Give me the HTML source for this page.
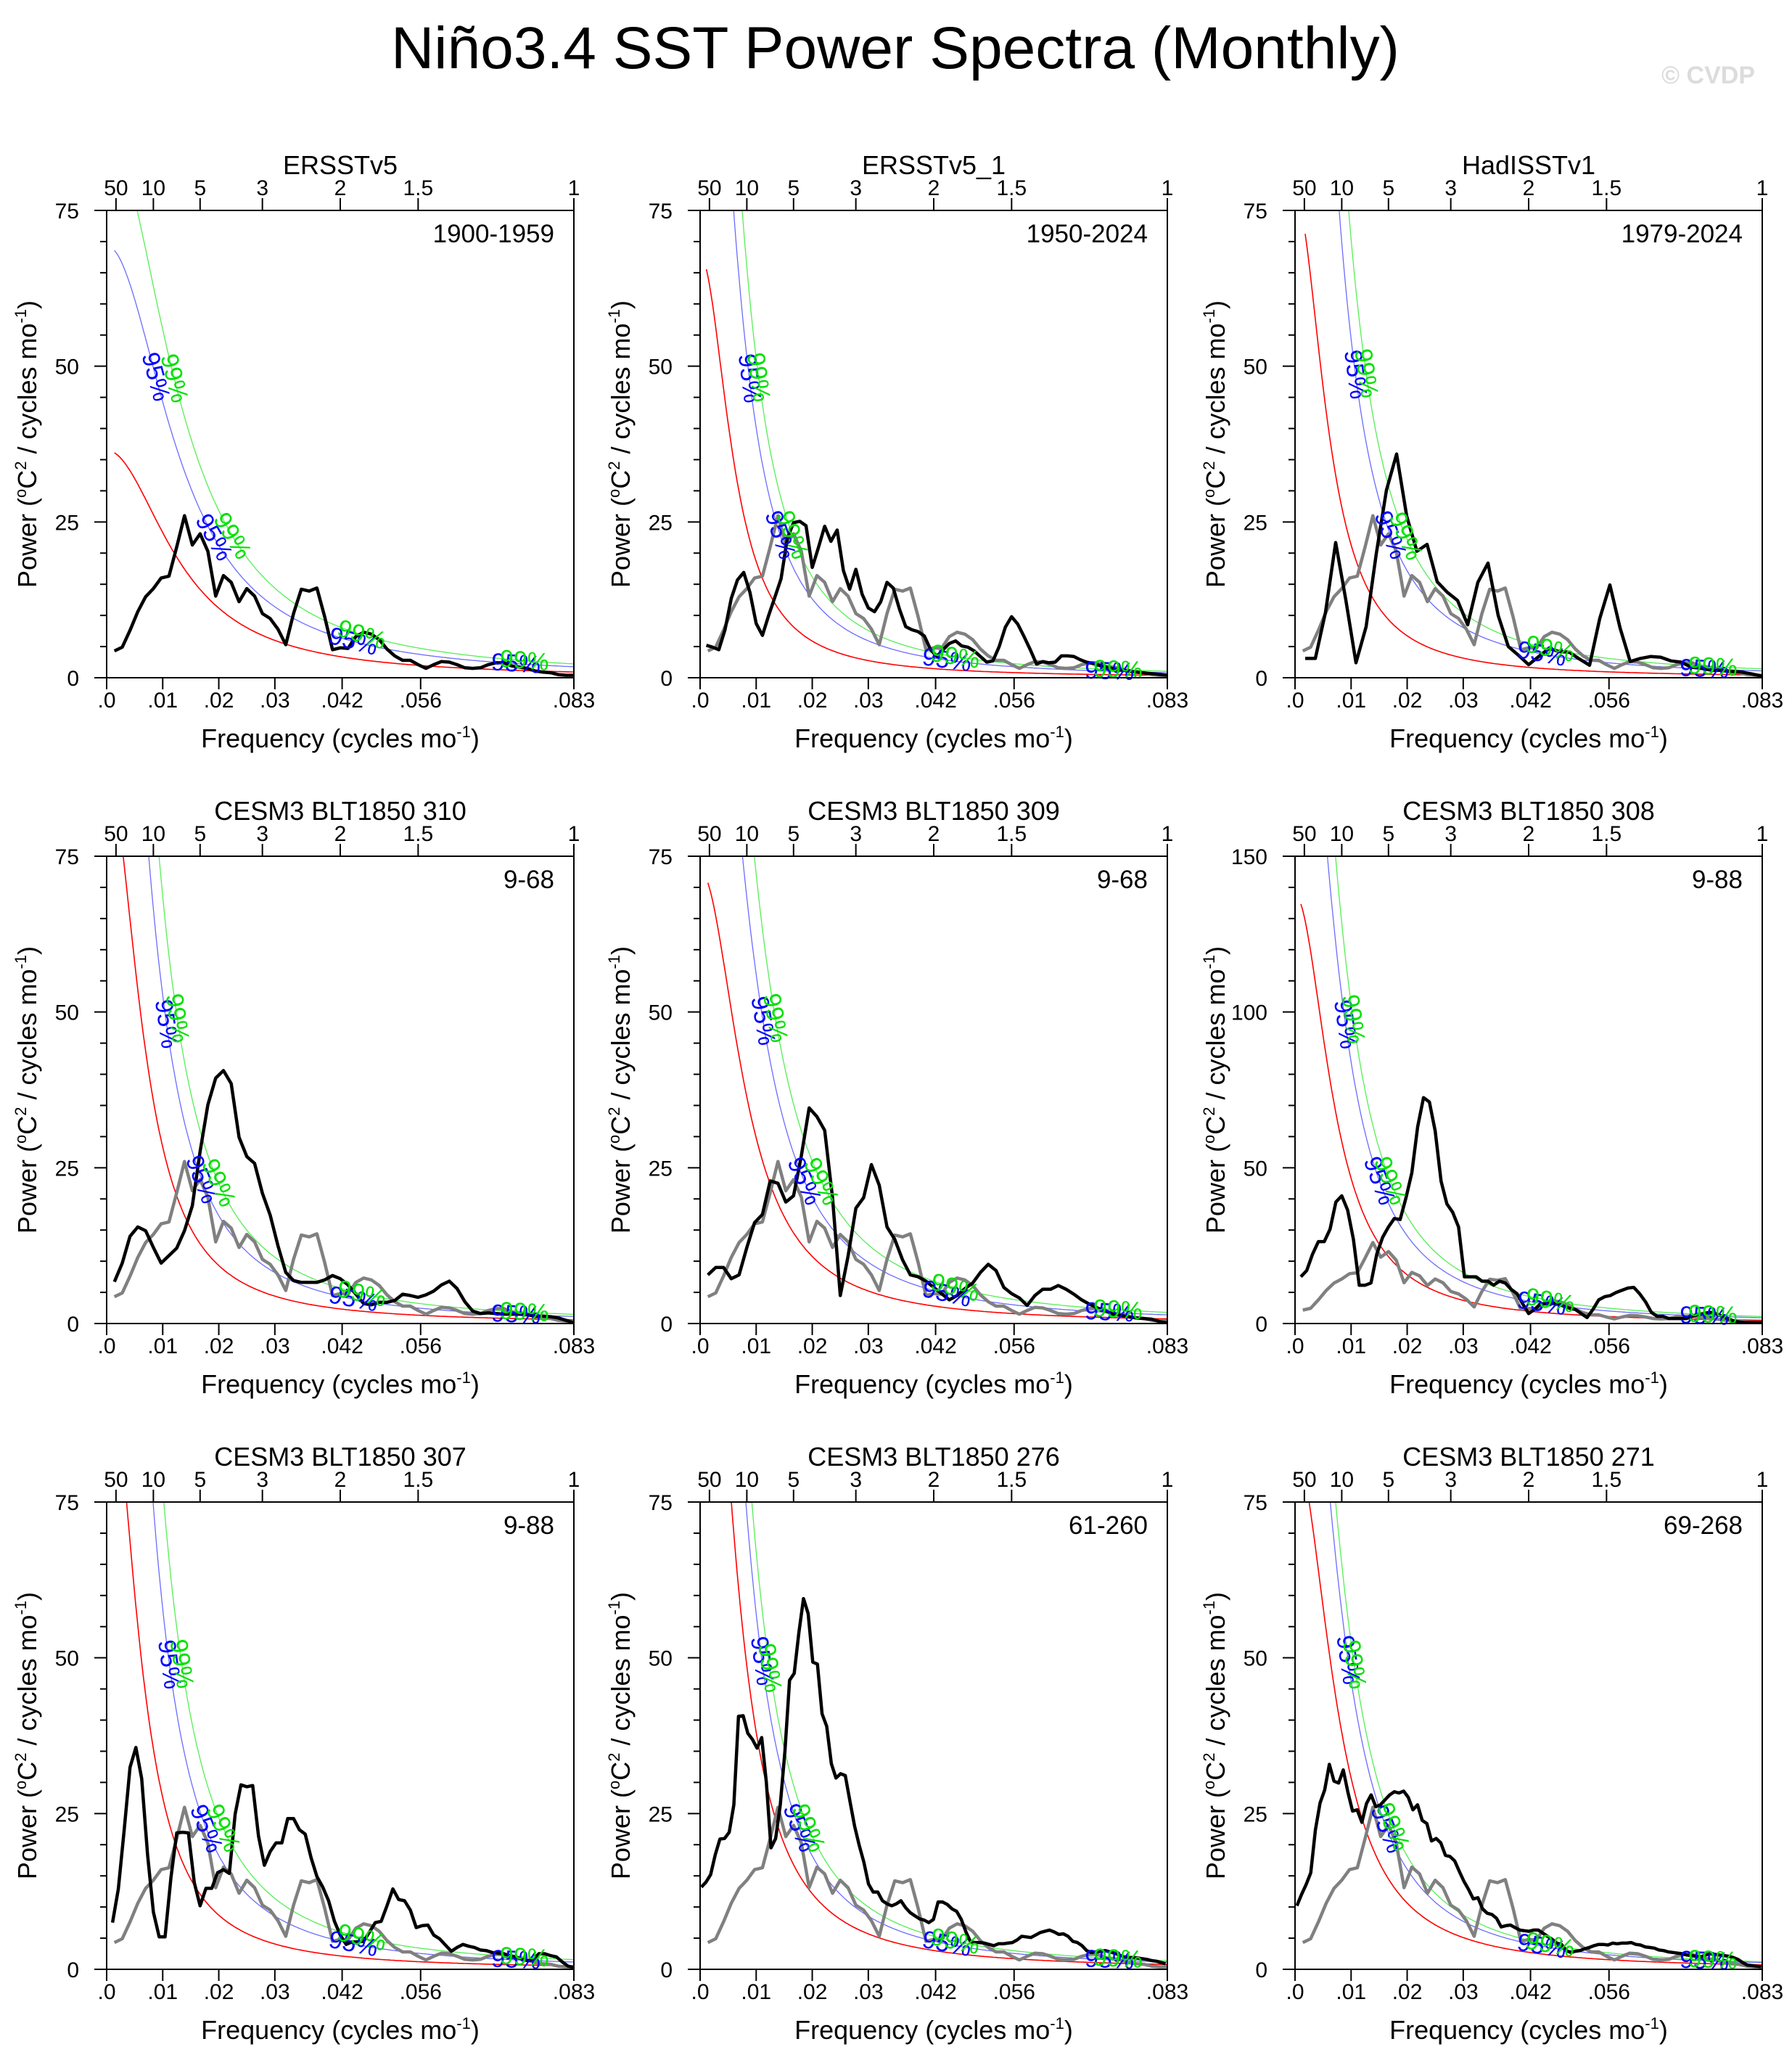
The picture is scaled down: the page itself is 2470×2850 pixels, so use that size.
<!DOCTYPE html>
<html><head><meta charset="utf-8"><title>Niño3.4 SST Power Spectra</title>
<style>html,body{margin:0;padding:0;background:#fff}svg{display:block}text{font-family:"Liberation Sans",Arial,sans-serif}</style>
</head><body>
<svg id="chart" xmlns="http://www.w3.org/2000/svg" width="2470" height="2850" viewBox="0 0 2470 2850">
<rect x="0" y="0" width="2470" height="2850" fill="#fff"/>
<text x="1234" y="94" font-size="82" text-anchor="middle" textLength="1390" lengthAdjust="spacingAndGlyphs">Niño3.4 SST Power Spectra (Monthly)</text>
<text x="2419" y="115" font-size="34" font-weight="bold" text-anchor="end" fill="#dcdcdc">© CVDP</text>
</svg>
<script>
const titles=["ERSSTv5","ERSSTv5_1","HadISSTv1","CESM3 BLT1850 310","CESM3 BLT1850 309","CESM3 BLT1850 308","CESM3 BLT1850 307","CESM3 BLT1850 276","CESM3 BLT1850 271"];
const ranges=["1900-1959","1950-2024","1979-2024","9-68","9-68","9-88","9-88","61-260","69-268"];
const yMaxes=[75,75,75,75,75,150,75,75,75];
const p1=[4.3,4.9,7.6,10.6,13,14.3,16,16.3,21,26,21.3,23.1,20.3,13.1,16.4,15.3,12.2,14.3,13.1,10.3,9.5,7.8,5.3,10.3,14.2,13.9,14.4,9.8,4.5,4.8,4.7,6.6,7.3,7.0,6.1,4.6,3.5,2.8,2.8,2.1,1.5,2.1,2.6,2.5,2.1,1.6,1.5,1.6,2.1,2.4,2.4,1.9,1.7,1.5,1.1,0.9,0.8,0.5,0.4,0.4];
const p2=[5.2,4.9,4.5,7.7,12.7,15.7,16.9,13.7,8.7,6.8,10,12.9,15.9,22.4,24.9,25.1,24.4,17.7,20.9,24.3,21.9,23.7,17.2,14.2,17.4,13.4,11.2,10.6,12.2,15.3,14.4,11,8.2,7.7,7.4,6.7,4.5,3.4,4.5,5.5,5.9,5.1,4.9,4.3,3.4,2.5,2.7,5,8.1,9.8,8.6,6.6,4.5,2.2,2.6,2.4,2.5,3.5,3.5,3.4,2.9,2.5,2.3,2.0,1.7,1.5,1.3,1.2,1.0,0.9,0.8,0.7,0.6,0.5,0.4];
const p3=[3.1,3.1,10.5,21.7,12.5,2.4,8.2,19.9,30.1,35.9,25.9,20.3,21.4,15.4,13.7,12.4,8.5,15.3,18.4,10,5,3.6,2.1,3.4,4.7,4.2,4.1,3,2,9.5,14.9,8,2.6,3.1,3.4,3.3,2.7,2.5,1.7,1.5,1.2,1.2,1.0,0.9,0.6,0.25];
const p4=[6.7,9.7,14,15.5,14.9,12.2,9.7,10.9,12.1,14.9,18.9,27.6,35.1,39.4,40.6,38.5,29.9,26.8,25.7,20.9,17.4,12.5,8.2,6.9,6.6,6.6,6.6,7,7.7,7.2,6.2,4.7,3.2,3,3.4,3.4,3.7,4.7,4.5,4.2,4.6,5.2,6.2,6.8,5.6,3.5,2,1.6,1.7,1.6,1.5,1.5,1.5,1.4,1.2,1.2,1.1,0.9,0.5,0.1];
const p5=[7.8,9,9,7.2,7.8,12.2,16.2,17.5,22.9,22.5,19.5,20.5,26.9,34.6,33.2,31,20.2,4.5,10.8,18.5,20.2,25.5,22.2,15.5,13.5,10.2,7.8,7.5,6.8,5.8,4.8,3.8,4.5,5.6,6.5,8.2,9.5,8.5,5.8,4.8,4.1,2.9,4.5,5.5,5.5,6.1,5.5,4.7,3.8,3.1,2.5,2.1,1.5,1.3,1.1,0.9,0.8,0.7,0.3,0.1];
const p6=[15,17,22.3,26.3,26.3,30.3,39,41,36.4,27,12.3,12.3,13,22.3,27.7,31,33.7,33.4,40.4,48.4,63.1,72.5,71.1,61.8,45.7,38.4,35.7,31,15,15,15,13.6,13.6,12.3,13.6,13,11,9.6,6.3,3.2,4.5,6.3,6.3,6.6,6.3,5.6,4.9,4.5,3.2,1.9,4.5,7.6,8.6,9,10,10.7,11.4,11.6,9.6,7,3.6,2.3,2.3,1.6,1.6,1.6,1.6,2.3,2.9,3.2,3.6,3.2,2.4,1.6,0.9,0.5,0.3,0.3,0.3,0.3];
const p7=[7.5,12.9,22.4,32.4,35.6,30.6,18.4,9.2,5.2,5.2,14.7,21.9,22,21.9,13.9,10.2,13,13,15.5,16,15.4,24.9,29.6,29.3,29.5,21.4,16.7,18.9,20.3,20.3,24.2,24.2,22.4,21.7,17.9,14.9,13.2,11,7.7,5.5,4,4.4,4.4,4.5,6,7.5,7.7,10.2,12.9,11.2,11,9.5,6.7,7,7.1,5.5,4.9,3.9,2.9,3.5,4,3.7,3.5,3.1,3,2.7,2.6,2.5,2.2,2,1.7,1.4,1.5,2.5,2.5,2.2,2,1.2,0.5,0.3];
const p8=[13.2,14,15.2,18.4,20.9,21,22,26.4,40.6,40.7,37.9,36.9,35.5,37.2,30,19.5,21,26.4,35,46.4,47.5,54,59.5,57.1,49.3,49,41,39,33,30.7,31.4,31.1,27,23,19.9,17.2,13.7,12.4,12.4,11,10.5,10.2,10.5,11,9.9,9.1,8.6,8.1,7.9,7.5,8,10.8,10.8,10.4,9.7,9.3,8,6,4.4,4.3,4.3,4.2,4,3.8,4.1,4.1,4.2,4.3,4.7,5.3,5.2,5.1,5.5,5.9,6.1,6.3,6,5.6,5.7,5.3,4.5,4.3,3.8,3,2.7,2.8,2.9,3,2.8,2.6,2.3,2,1.9,1.9,1.8,1.7,1.6,1.4,1.3,1.1,0.9];
const p9=[10.2,12,13.6,15.5,22.4,26.7,28.8,32.9,30.2,29.9,32,28.4,25.4,25.6,23.6,26.6,28,26.1,26.4,27.2,28,28.5,28.3,28.6,27.6,25.6,26.4,23.9,23.4,20.6,21,20.3,18.3,18.1,17.4,15.7,14.1,12.8,11.3,11.5,9.7,9,8.8,8.2,6.8,7,7.1,6.7,6.3,6.2,6.1,6.3,6.3,5.8,5.3,4.8,4.2,4,3,2.7,2.9,3,3.3,3.5,3.8,4,4,3.9,4.2,4.1,4.2,4.2,4.3,4,3.9,3.6,3.5,3.4,3.1,3,2.8,2.7,2.6,2.5,2.3,2.2,2.1,2,2.3,2.5,2.4,2.3,2.2,2.1,1.9,1.6,1.1,0.7,0.6,0.5,0.4];
const series=[p1,p2,p3,p4,p5,p6,p7,p8,p9];
const obsGray=p1;
const obsStart=1/720, obsStep=1/720;
const fStart=[1/720,1/900,1/552,1/720,1/720,1/960,1/960,0.00022,0.00033];
const fStep=[1/720,1/900,1/552,1/720,1/720,1/960,1/960,0.000828,0.000828];
const redR=[0.92,0.962,0.962,0.958,0.949,0.956,0.962,0.961,0.953];
const redS0=[36.5,67.7,77.4,89,72.7,137.5,100,133,83];
const fac95=[1.9,2.15,2.55,1.86,1.88,1.8,2.1,1.5,1.51];
const fac99=[2.4,2.75,3.3,2.42,2.42,2.2,2.8,1.76,1.71];
const xTickVals=[0,0.01,0.02,0.03,0.042,0.056,1/12];
const xTickLabels=[".0",".01",".02",".03",".042",".056",".083"];
const periodVals=[50,10,5,3,2,1.5,1];
const periodLabels=["50","10","5","3","2","1.5","1"];

const NS='http://www.w3.org/2000/svg';
const svg=document.getElementById('chart');
const colL=[147,965,1785], rowT=[290,1180,2070], W=644, H=644, FMAX=1/12;
function mk(tag,attrs,parent){const e=document.createElementNS(NS,tag);for(const k in attrs)e.setAttribute(k,attrs[k]);parent.appendChild(e);return e;}
function redAt(i,f){const r=redR[i];return redS0[i]*(1-r)*(1-r)/(1+r*r-2*r*Math.cos(2*Math.PI*f));}

for(let i=0;i<9;i++){
  const L=colL[i%3], T=rowT[Math.floor(i/3)], B=T+H, R=L+W, ymax=yMaxes[i];
  const px=f=>L+f/FMAX*W, py=v=>B-v/ymax*H;
  const g=mk('g',{},svg);
  
  
  const cp=mk('clipPath',{id:'clip'+i},g);
  mk('rect',{x:L,y:T,width:W,height:H},cp);
  const t=mk('text',{x:L+322,y:T-50,'font-size':36,'text-anchor':'middle'},g);
  t.textContent=titles[i];
  
  
  const rg=mk('text',{x:L+617,y:T+44,'font-size':35,'text-anchor':'end'},g);
  rg.textContent=ranges[i];
  
  
  // y ticks
  const yStep=ymax/3, minor=ymax/15;
  for(let k=0;k<=15;k++){const v=k*minor;const major=(k%5===0);
    const tk=mk('line',{x1:L-(major?17:9),x2:L,y1:py(v),y2:py(v),stroke:'#000','stroke-width':2},g);
    
    
    if(major){const tl=mk('text',{x:L-38,y:py(v)+11,'font-size':30,'text-anchor':'end'},g);tl.textContent=String(Math.round(v));
      
      }
  }
  // x ticks bottom
  for(let k=0;k<xTickVals.length;k++){const x=px(xTickVals[k]);
    const tk=mk('line',{x1:x,x2:x,y1:B,y2:B+16,stroke:'#000','stroke-width':2},g);
    
    
    const tl=mk('text',{x:x,y:B+41,'font-size':30,'text-anchor':'middle'},g);tl.textContent=xTickLabels[k];
    
    
  }
  // top period ticks
  for(let k=0;k<periodVals.length;k++){const x=px(1/(12*periodVals[k]));
    const tk=mk('line',{x1:x,x2:x,y1:T-17,y2:T,stroke:'#000','stroke-width':2},g);
    
    
    const tl=mk('text',{x:x,y:T-21,'font-size':30,'text-anchor':'middle'},g);tl.textContent=periodLabels[k];
    
    
  }
  // axis titles
  const xt=mk('text',{x:L+322,y:B+96,'font-size':36,'text-anchor':'middle'},g);
  xt.innerHTML='Frequency (cycles mo<tspan dy="-14" font-size="22">-1</tspan><tspan dy="14">)</tspan>';
  
  
  const yt=mk('text',{x:L-97,y:T+322,'font-size':36,'text-anchor':'middle',transform:'rotate(-90 '+(L-97)+' '+(T+322)+')'},g);
  yt.innerHTML='Power (<tspan dy="-14" font-size="22">o</tspan><tspan dy="14">C</tspan><tspan dy="-14" font-size="22">2</tspan><tspan dy="14"> / cycles mo</tspan><tspan dy="-14" font-size="22">-1</tspan><tspan dy="14">)</tspan>';
  
  
  // curves
  const cg=mk('g',{'clip-path':'url(#clip'+i+')'},g);
  const f0=fStart[i], nd=300, dense=[];
  for(let k=0;k<=nd;k++){dense.push(f0+(FMAX-f0)*k/nd);}
  const pathOf=(fac)=>dense.map((f,k)=>(k?'L':'M')+px(f).toFixed(1)+' '+py(redAt(i,f)*fac).toFixed(1)).join(' ');
  const red=mk('path',{d:pathOf(1),fill:'none',stroke:'#ff0000','stroke-width':1.6},cg);
  
  
  const blue=mk('path',{d:pathOf(fac95[i]),fill:'none',stroke:'#6b6bff','stroke-width':1.3},cg);
  
  
  const green=mk('path',{d:pathOf(fac99[i]),fill:'none',stroke:'#55ee55','stroke-width':1.3},cg);
  
  
  if(i>0){
    const gd=obsGray.map((v,k)=>(k?'L':'M')+px(obsStart+k*obsStep).toFixed(1)+' '+py(v).toFixed(1)).join(' ');
    const gp=mk('path',{d:gd,fill:'none',stroke:'#808080','stroke-width':4.5,'stroke-linejoin':'round'},cg);
    
    
  }
  const s=series[i];
  const bd=s.map((v,k)=>(k?'L':'M')+px(fStart[i]+k*fStep[i]).toFixed(1)+' '+py(v).toFixed(1)).join(' ');
  const bp=mk('path',{d:bd,fill:'none',stroke:'#000','stroke-width':4.5,'stroke-linejoin':'round'},cg);
  
  
  // significance labels
  const labelAt=(fac,f,txt,col)=>{
    const x=px(f), y=py(redAt(i,f)*fac);
    const df=0.0003, x2=px(f+df), y2=py(redAt(i,f+df)*fac);
    const ang=Math.atan2(y2-y,x2-x)*180/Math.PI;
    const tl=mk('text',{x:x,y:y,'font-size':34,fill:col,'text-anchor':'middle','dominant-baseline':'central',transform:'rotate('+ang.toFixed(1)+' '+x.toFixed(1)+' '+y.toFixed(1)+')'},g);
    tl.textContent=txt;
    
    
  };
  const fAtValue=(fac,val)=>{let best=dense[0];for(const f of dense){if(redAt(i,f)*fac>=val)best=f;}return best;};
  [0.64,0.3].forEach(fr=>{
    labelAt(fac95[i],fAtValue(fac95[i],fr*ymax),'95%','#0000ff');
    labelAt(fac99[i],fAtValue(fac99[i],fr*ymax),'99%','#00e000');
  });
  [0.044,0.073].forEach(f=>{
    labelAt(fac95[i],f,'95%','#0000ff');
    labelAt(fac99[i],f+0.0015,'99%','#00e000');
  });
  const fr=mk('rect',{x:L,y:T,width:W,height:H,fill:'none',stroke:'#000','stroke-width':2},g);
  
  
}
</script>
</body></html>
